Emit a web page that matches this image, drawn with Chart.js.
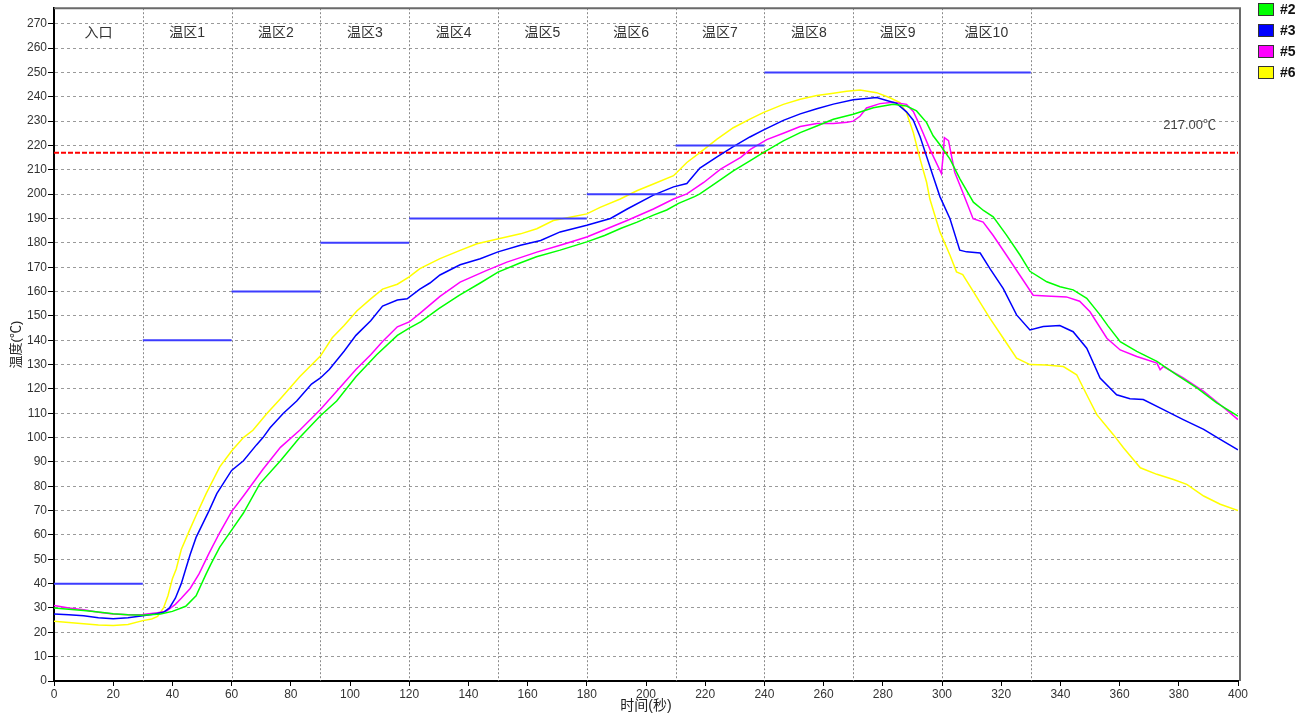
<!DOCTYPE html>
<html>
<head>
<meta charset="utf-8">
<script src="https://cdn.jsdelivr.net/npm/chart.js@4.4.0/dist/chart.umd.min.js"></script>
<style>
  body { margin: 0; background: #fff; }
  #wrap { width: 1310px; height: 722px; }
</style>
</head>
<body>
<div id="wrap"><canvas id="myChart" width="1310" height="722"></canvas></div>
<script>
// zones of the oven, 30 s each
const zoneNames = ['入口', '温区1', '温区2', '温区3', '温区4', '温区5', '温区6', '温区7', '温区8', '温区9', '温区10'];
const zoneSetpoints = [40, 140, 160, 180, 190, 190, 200, 220, 250, 250, 250];
const zoneLength = 30;
const liquidus = 217;

const seriesNames = ['#2', '#3', '#5', '#6'];
const seriesColors = ['#00ff00', '#0000ff', '#ff00ff', '#ffff00'];

// [time (s), temperature (°C)]
const probe2 = [[0,30],[5,29.5],[10,29],[15,28.3],[20,27.6],[25,27.2],[30,27],[36,27.5],[40,28.6],[44.5,30.7],[48,35],[51.4,44],[53,48],[56,55],[60,62],[64,69],[69.5,81],[76.5,90.5],[83,100],[90,109],[95.5,115],[102,125],[109,134],[116,142],[120,145],[124,147.6],[130,153],[137,158.5],[144,163.5],[150,168],[157,171.5],[163,174.3],[171,177],[180,180.4],[186,183],[191.6,186],[197,188.5],[202.5,191.4],[207,193.5],[211,196.2],[216.4,199],[218.2,200.1],[224,204.9],[229.5,209.6],[235.1,213.7],[239.6,217.1],[246.4,221.9],[252.1,225.3],[257.7,228],[263.3,230.8],[270,232.8],[276.8,235.5],[283.5,236.9],[288,236.2],[291.4,234.2],[294.8,229.4],[297,224],[299.5,220],[302.7,214.4],[306.1,206.2],[310.6,196.7],[314,193.3],[317.3,190.7],[321.8,183.2],[326.4,174.9],[329.7,168.3],[335.4,164],[339.9,162],[344.3,160.7],[348.9,157.2],[353.4,150.4],[356,146],[360.2,139.4],[365.8,135.4],[372.6,131.3],[379.3,125.8],[386.1,120.4],[392.8,114.3],[400,108.8]];
const probe3 = [[0,27.5],[5,27.2],[10,26.8],[15,26],[20,25.6],[25,26],[30,26.8],[34,27.5],[37,28.2],[39,30],[41,34],[43,40],[44.5,46],[46,52],[48,59],[52.4,70],[55,77],[60,86.5],[64,90.5],[68.4,97],[70.6,100],[73,104],[77.5,110],[82,115],[87,122],[90,124.5],[93,128],[98,135.5],[102,142],[107,148],[111,154],[116,156.5],[119.3,157],[123.6,161],[127,163.5],[130.4,166.8],[137.2,171],[144,173.5],[150,176.3],[157.6,179],[164.4,181],[171,184.5],[180,187.2],[188,190],[193.8,194],[202.5,199.6],[209.3,203],[213.8,204.4],[218.2,210.7],[224,215.3],[229.5,219.5],[235.1,223.5],[239.6,226.3],[246.4,230.3],[252.1,233],[257.7,235.1],[263.3,237],[270,238.8],[277.9,239.7],[281.3,238.5],[284.7,237.3],[288,233.8],[290.3,230.4],[292.6,223.6],[294.8,215.5],[297,207.4],[299.3,199],[302.7,189.9],[306,177],[308.3,176.3],[312.9,175.8],[316.2,169.4],[320.7,161.2],[325.2,150.4],[329.7,144.2],[334.2,145.6],[339.8,146],[344.3,143.5],[348.9,136.7],[353.4,124.5],[359,117.6],[363.5,116],[368,115.6],[374.8,111.5],[381.5,107.4],[388.4,103.4],[394,99.3],[400,95]];
const probe5 = [[0,31],[5,30],[10,29.3],[15,28.2],[20,27.5],[25,27.2],[30,27.3],[35,28],[38,28.7],[41,31.5],[43,34],[46,38],[49,44],[52.4,52.5],[56,61],[60,69.6],[64,76],[70.6,87],[76.5,96],[83,103],[90,111.5],[95.5,119],[102,128],[107,134],[111,139.5],[116,145.5],[120,147.5],[123.6,151],[130.4,158],[137.2,163.9],[146.2,168.7],[153,172.1],[163.1,176.2],[171,179],[180,182.4],[186.8,185.8],[193.6,189.2],[202.5,193.9],[209.3,198],[213.8,200.1],[219.5,204.8],[225.2,210.3],[232,215.1],[235.4,218.5],[240.8,222.4],[246.4,225],[252.1,227.8],[257.7,229],[263.3,229],[268,229.5],[270,230],[272.3,232],[274.5,235.4],[279,237.2],[283.5,237.8],[288,236.9],[290.3,234],[292.6,228],[295.9,218.5],[299.8,208.5],[300.4,216],[300.8,223.2],[302.2,222],[304.3,209],[307,200.8],[310.5,189.9],[313.9,188.5],[317.3,183],[321.8,174.9],[326.3,166.7],[330.8,158.5],[335.2,158.2],[342,157.8],[346.5,156],[350,151.7],[355.7,140.8],[360.2,136],[365.8,133.3],[372.6,130.6],[373.7,127.9],[374.8,129.2],[381.5,124.5],[388.4,119],[394,113.5],[400,107.4]];
const probe6 = [[0,24.5],[5,24],[10,23.5],[15,23],[20,22.8],[25,23.2],[30,24.8],[33,25.5],[35,26.5],[37,30],[38.5,35],[40,42],[41.3,46],[43,54],[45.8,62],[48,68],[51.4,77],[56,88],[60,94.5],[64,100],[67.2,103],[72,110],[76.5,116],[83,125],[90,133.5],[94,141],[98,146],[102.3,152],[107,157],[111,161],[116,163],[120,166],[123.6,169.4],[130.4,173.5],[137.2,176.9],[142.9,179.6],[150.2,181.7],[157.6,183.7],[163.1,185.8],[168.7,189.2],[174.3,190.5],[180,191.9],[184.5,194.6],[191.3,198],[196.9,201.4],[202.5,204.2],[209.3,207.6],[213.8,213],[218.2,217.1],[224,222.6],[229.5,227.3],[235.1,230.8],[239.6,233.5],[246.4,236.9],[252.1,239],[257.7,240.5],[263.3,241.5],[267.8,242.3],[272.3,242.8],[277.9,241.7],[282.4,239.6],[285.8,237.6],[288,233.5],[290.3,225.3],[292.6,214.4],[294.8,204.9],[295.9,198],[299.3,184.5],[302.7,174.9],[304.9,168.1],[307,167],[310.6,160],[316.2,149],[320.7,140.8],[325.2,132.6],[329.7,130],[335,129.8],[341,129.2],[345.5,125.8],[348.9,117.6],[352.3,109.4],[357.9,101.2],[361.3,95.8],[367,87.6],[372.6,84.9],[378.2,82.8],[382.7,80.8],[388.4,76],[394,72.6],[400,70]];

const xMin = 0, xMax = 400, xStep = 20;
const yMin = 0, yMax = 276.4, yStep = 10;

const FONT = "'Liberation Sans', 'Noto Sans CJK SC', Arial, sans-serif";

function toPoints(arr) {
    return arr.map(p => ({ x: p[0], y: p[1] }));
}

// setpoint segments, one per zone, broken with a gap
const setpointPoints = [];
zoneSetpoints.forEach(function(sp, i) {
    setpointPoints.push({ x: i * zoneLength, y: sp });
    setpointPoints.push({ x: (i + 1) * zoneLength, y: sp });
    setpointPoints.push({ x: (i + 1) * zoneLength, y: null });
});

const probes = [probe2, probe3, probe5, probe6];

const datasets = [{
    label: 'setpoint',
    data: setpointPoints,
    borderColor: 'rgb(60,60,255)',
    borderWidth: 2,
    pointRadius: 0,
    spanGaps: false
}];
probes.forEach(function(p, i) {
    datasets.push({
        label: seriesNames[i],
        data: toPoints(p),
        borderColor: seriesColors[i],
        borderWidth: 1.5,
        pointRadius: 0,
        tension: 0
    });
});
datasets.push({
    label: 'liquidus',
    data: [{ x: xMin, y: liquidus }, { x: xMax, y: liquidus }],
    borderColor: '#ff0000',
    borderWidth: 2,
    borderDash: [5, 2],
    pointRadius: 0
});

const overlay = {
    id: 'overlay',
    beforeDatasetsDraw(chart) {
        const ctx = chart.ctx;
        const area = chart.chartArea;
        const xs = chart.scales.x;
        ctx.save();
        ctx.strokeStyle = '#8a8a8a';
        ctx.lineWidth = 1;
        ctx.setLineDash([2, 2]);
        for (let i = 1; i < zoneNames.length + 1; i++) {
            const px = Math.round(xs.getPixelForValue(i * zoneLength)) + 0.5;
            ctx.beginPath();
            ctx.moveTo(px, area.top);
            ctx.lineTo(px, area.bottom);
            ctx.stroke();
        }
        ctx.restore();
    },
    afterDraw(chart) {
        const ctx = chart.ctx;
        const area = chart.chartArea;
        const xs = chart.scales.x;
        const ys = chart.scales.y;
        ctx.save();

        // frame top / right
        ctx.strokeStyle = '#6a6a6a';
        ctx.lineWidth = 2;
        ctx.setLineDash([]);
        ctx.beginPath();
        ctx.moveTo(area.left, area.top);
        ctx.lineTo(area.right + 2, area.top);
        ctx.lineTo(area.right + 2, area.bottom);
        ctx.stroke();

        // zone names
        ctx.fillStyle = '#333';
        ctx.font = '14px ' + FONT;
        ctx.textAlign = 'center';
        ctx.textBaseline = 'middle';
        zoneNames.forEach(function(name, i) {
            const px = xs.getPixelForValue((i + 0.5) * zoneLength);
            ctx.fillText(name, px, area.top + 25);
        });

        // liquidus label
        ctx.fillStyle = '#444';
        ctx.font = '13px ' + FONT;
        ctx.textAlign = 'right';
        ctx.fillText(liquidus.toFixed(2) + '℃', area.right - 22, ys.getPixelForValue(liquidus) - 27);

        // legend
        ctx.font = 'bold 14px ' + FONT;
        ctx.textAlign = 'left';
        seriesNames.forEach(function(name, i) {
            const bx = area.right + 20;
            const by = 3 + i * 21;
            ctx.fillStyle = seriesColors[i];
            ctx.fillRect(bx, by, 16, 13);
            ctx.strokeStyle = '#333';
            ctx.lineWidth = 1;
            ctx.strokeRect(bx + 0.5, by + 0.5, 15, 12);
            ctx.fillStyle = '#111';
            ctx.fillText(name, bx + 22, by + 7);
        });
        ctx.restore();
    }
};

const ctx = document.getElementById('myChart').getContext('2d');
const myChart = new Chart(ctx, {
    type: 'line',
    data: { datasets: datasets },
    options: {
        responsive: false,
        animation: false,
        events: [],
        layout: { padding: { top: 5, right: 72, left: 0, bottom: 0 } },
        plugins: {
            legend: { display: false },
            tooltip: { enabled: false }
        },
        scales: {
            x: {
                type: 'linear',
                min: xMin,
                max: xMax,
                ticks: { stepSize: xStep, color: '#333', font: { size: 12, family: FONT }, padding: 1, maxRotation: 0 },
                grid: { display: true, drawOnChartArea: false, drawTicks: true, tickLength: 5, tickColor: '#000' },
                border: { display: true, color: '#000', width: 2 },
                title: { display: true, text: '时间(秒)', color: '#222', font: { size: 14, family: FONT }, padding: { top: 0, bottom: 7.5 } },
                afterFit: function(scale) { scale.height = 41; }
            },
            y: {
                type: 'linear',
                min: yMin,
                max: yMax,
                ticks: { stepSize: yStep, includeBounds: false, color: '#333', font: { size: 12, family: FONT }, padding: 1 },
                grid: { color: '#9a9a9a', lineWidth: 1, tickColor: '#000', tickLength: 6, tickBorderDash: [] },
                border: { display: true, color: '#000', width: 2, dash: [3, 3] },
                title: { display: true, text: '温度(℃)', color: '#222', font: { size: 13, family: FONT }, padding: { top: 9, bottom: 0 } },
                afterFit: function(scale) { scale.width = 54; }
            }
        }
    },
    plugins: [overlay]
});
</script>
</body>
</html>
